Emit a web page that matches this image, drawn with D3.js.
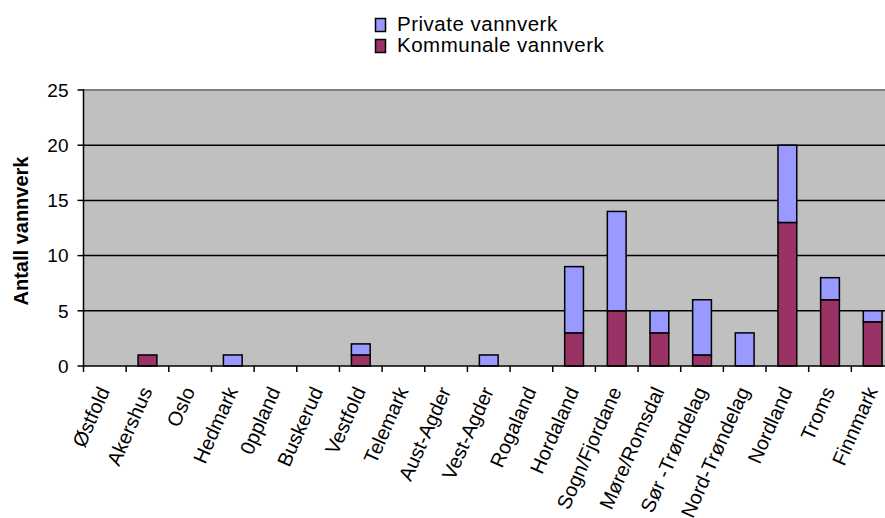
<!DOCTYPE html>
<html><head><meta charset="utf-8">
<script src="https://cdn.jsdelivr.net/npm/d3@7"></script>
<style>body{margin:0;background:#fff;overflow:hidden}text{font-family:"Liberation Sans",Arial,sans-serif}</style>
</head><body>
<svg id="c" width="885" height="518"></svg>
<script>
const categories = ["Østfold","Akershus","Oslo","Hedmark","0ppland","Buskerud","Vestfold","Telemark","Aust-Agder","Vest-Agder","Rogaland","Hordaland","Sogn/Fjordane","Møre/Romsdal","Sør -Trøndelag","Nord-Trøndelag","Nordland","Troms","Finnmark"];
const kommunale = [0,1,0,0,0,0,1,0,0,0,0,3,5,3,1,0,13,6,4];
const private_ = [0,0,0,1,0,0,1,0,0,1,0,6,9,2,5,3,7,2,1];
const yTicks = [0,5,10,15,20,25];
const seriesNames = ["Private vannverk","Kommunale vannverk"];
const colors = {"Private vannverk":"#9999FF","Kommunale vannverk":"#993366"};

const svg = d3.select("#c");
const L=83.5, R=894, T=90, B=366;
const x = d3.scaleBand().domain(categories).range([L,R]).paddingInner(0.56).paddingOuter(0.28);
const xo = d3.scaleBand().domain(categories).range([L,R]);
const y = d3.scaleLinear().domain([0,25]).range([B,T]);

svg.append("rect").attr("x",L).attr("y",T).attr("width",R-L).attr("height",B-T).attr("fill","#C0C0C0");
svg.selectAll(".g").data(yTicks.filter(d=>d>0&&d<25)).enter().append("line")
  .attr("x1",L).attr("x2",R).attr("y1",d=>y(d)).attr("y2",d=>y(d)).attr("stroke","#000").attr("stroke-width",1.5);
svg.append("line").attr("x1",L).attr("x2",R).attr("y1",y(25)).attr("y2",y(25)).attr("stroke","#808080").attr("stroke-width",2);

const data = categories.map((c,i)=>({c,k:kommunale[i],p:private_[i]}));
const g = svg.append("g");
data.forEach(d=>{
  if(d.k>0) g.append("rect").attr("x",x(d.c)).attr("width",x.bandwidth()).attr("y",y(d.k)).attr("height",y(0)-y(d.k))
    .attr("fill",colors["Kommunale vannverk"]).attr("stroke","#000").attr("stroke-width",1.5);
  if(d.p>0) g.append("rect").attr("x",x(d.c)).attr("width",x.bandwidth()).attr("y",y(d.k+d.p)).attr("height",y(d.k)-y(d.k+d.p))
    .attr("fill",colors["Private vannverk"]).attr("stroke","#000").attr("stroke-width",1.5);
});

svg.append("line").attr("x1",L).attr("x2",L).attr("y1",T-1).attr("y2",B+0.5).attr("stroke","#000").attr("stroke-width",1.5);
yTicks.forEach(t=>{
  svg.append("line").attr("x1",L-6).attr("x2",L).attr("y1",y(t)).attr("y2",y(t)).attr("stroke","#000").attr("stroke-width",1.5);
  svg.append("text").attr("x",L-15).attr("y",y(t)).attr("dy","0.36em").attr("text-anchor","end").attr("font-size",19).text(t);
});
svg.append("line").attr("x1",L).attr("x2",R).attr("y1",B).attr("y2",B).attr("stroke","#000").attr("stroke-width",1.5);
categories.forEach((c,i)=>{
  const tx = xo(c);
  svg.append("line").attr("x1",tx).attr("x2",tx).attr("y1",B).attr("y2",B+6).attr("stroke","#000").attr("stroke-width",1.5);
  const cx = xo(c)+xo.bandwidth()/2;
  svg.append("text").attr("transform",`translate(${cx-1},${B+22}) rotate(-66)`).attr("text-anchor","end")
    .attr("dy","0.35em").attr("font-size",20).text(c);
});

svg.append("text").attr("transform",`translate(28,231) rotate(-90)`).attr("text-anchor","middle")
  .attr("font-size",20).attr("font-weight","bold").text("Antall vannverk");

seriesNames.forEach((s,i)=>{
  const ly = 18+i*21;
  svg.append("rect").attr("x",375.5).attr("y",ly+0.5).attr("width",10).attr("height",13).attr("fill",colors[s]).attr("stroke","#000").attr("stroke-width",1.5);
  svg.append("text").attr("x",397).attr("y",ly+13).attr("font-size",20.5).attr("letter-spacing",0.5).text(s);
});
</script>
</body></html>
